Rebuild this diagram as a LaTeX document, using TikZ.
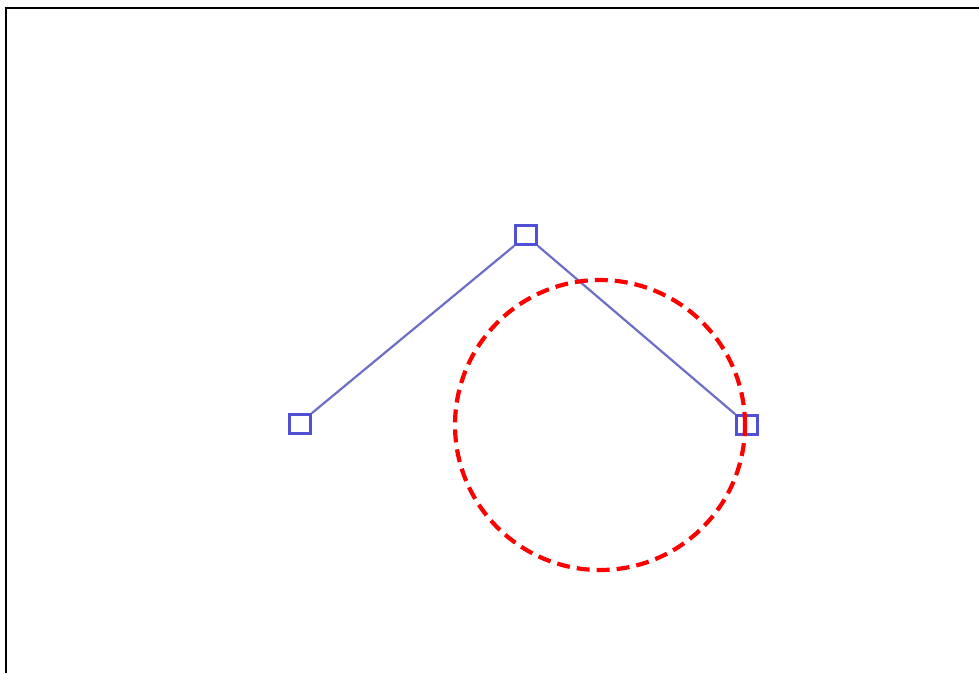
\documentclass[tikz,border=0pt]{standalone}
\begin{document}
\begin{tikzpicture}[x=1pt,y=-1pt,
  vert/.style={draw=sqblue,line width=2.8pt,minimum width=21pt,minimum height=19pt,inner sep=0pt,rectangle},
  edge/.style={draw=lnblue,line width=2.2pt},
  ring/.style={draw=red,line width=4.2pt,dash pattern=on 13pt off 7pt}]
\definecolor{sqblue}{RGB}{80,80,215}
\definecolor{lnblue}{RGB}{110,110,200}
\useasboundingbox (0,0) rectangle (979,673);
\coordinate (fa) at (6,8);
\coordinate (fb) at (979,8);
\coordinate (fc) at (6,673);
\draw[line width=1.8pt] (fb) -- (fa) -- (fc);
\node[vert] (top) at (526,235) {};
\node[vert] (left) at (300,424) {};
\node[vert] (right) at (747,425) {};
\draw[edge] (left.north east) -- (top.south west);
\draw[edge] (top.south east) -- (right.north west);
\node[ring,circle,minimum size=290pt,inner sep=0pt] (c) at (600,425) {};
\end{tikzpicture}
\end{document}
